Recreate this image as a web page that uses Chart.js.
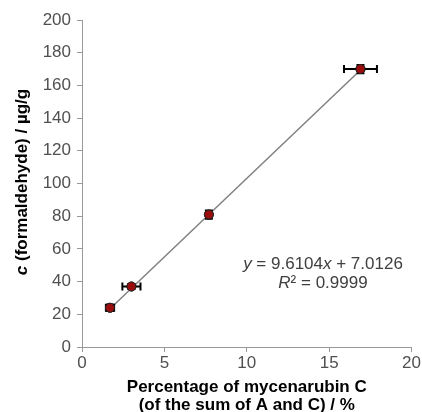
<!DOCTYPE html>
<html>
<head>
<meta charset="utf-8">
<script src="https://cdn.jsdelivr.net/npm/chart.js@4"></script>
<style>
  html, body { margin: 0; padding: 0; background: #fff; }
  #wrap { position: relative; width: 422px; height: 412px; }
</style>
</head>
<body>
<div id="wrap"><canvas id="c" width="422" height="412"></canvas></div>
<script>
  // percentage of mycenarubin C vs formaldehyde content
  var xVals = [1.7, 3.0, 7.7, 16.9];
  var yVals = [24, 37, 81, 170];
  var xErr = [0.25, 0.55, 0.15, 1.0];
  var yErr = [2, 1.5, 2.5, 2.5];
  var slope = 9.6104, intercept = 7.0126;
  var xTicks = [0, 5, 10, 15, 20];
  var yTicks = [0, 20, 40, 60, 80, 100, 120, 140, 160, 180, 200];

  var FONT = "'Liberation Sans', Arial, sans-serif";

  var pts = xVals.map(function (x, i) { return { x: x, y: yVals[i] }; });
  var x0 = xVals[0], x1 = xVals[xVals.length - 1];
  var trend = [{ x: x0, y: slope * x0 + intercept }, { x: x1, y: slope * x1 + intercept }];

  // error bars drawn through the chart's own scales
  var errorBars = {
    id: "errorBars",
    afterDatasetsDraw: function (chart) {
      var xs = chart.scales.x, ys = chart.scales.y, ctx = chart.ctx;
      ctx.save();
      ctx.strokeStyle = "#000";
      ctx.lineWidth = 2;
      xVals.forEach(function (x, i) {
        var y = yVals[i];
        var px = xs.getPixelForValue(x), py = ys.getPixelForValue(y);
        var l = xs.getPixelForValue(x - xErr[i]), r = xs.getPixelForValue(x + xErr[i]);
        var t = ys.getPixelForValue(y + yErr[i]), b = ys.getPixelForValue(y - yErr[i]);
        ctx.beginPath();
        ctx.moveTo(l, py); ctx.lineTo(r, py);
        ctx.moveTo(l, py - 4); ctx.lineTo(l, py + 4);
        ctx.moveTo(r, py - 4); ctx.lineTo(r, py + 4);
        ctx.moveTo(px, t); ctx.lineTo(px, b);
        ctx.moveTo(px - 4, t); ctx.lineTo(px + 4, t);
        ctx.moveTo(px - 4, b); ctx.lineTo(px + 4, b);
        ctx.stroke();
      });
      ctx.restore();
      // markers back on top of the bars
      chart.getDatasetMeta(1).data.forEach(function (el) { el.draw(ctx); });
    }
  };

  function mixedLine(ctx, parts, cx, y, size) {
    var w = 0;
    parts.forEach(function (p) { ctx.font = (p[1] ? "italic " : "") + size + "px " + FONT; w += ctx.measureText(p[0]).width; });
    var x = cx - w / 2;
    parts.forEach(function (p) {
      ctx.font = (p[1] ? "italic " : "") + size + "px " + FONT;
      ctx.fillText(p[0], x, y); x += ctx.measureText(p[0]).width;
    });
  }

  var eqLabel = {
    id: "eqLabel",
    afterDraw: function (chart) {
      var ctx = chart.ctx;
      ctx.save();
      ctx.fillStyle = "#404040";
      ctx.textBaseline = "middle";
      mixedLine(ctx, [["y", true], [" = 9.6104", false], ["x", true], [" + 7.0126", false]], 323, 264, 17);
      mixedLine(ctx, [["R", true], ["² = 0.9999", false]], 323, 283, 17);
      // y title with italic c
      ctx.translate(22, 182);
      ctx.rotate(-Math.PI / 2);
      ctx.fillStyle = "#000";
      var parts = [["c", true], [" (formaldehyde) / µg/g", false]];
      var w = 0;
      parts.forEach(function (p) { ctx.font = (p[1] ? "italic " : "") + "bold 17px " + FONT; w += ctx.measureText(p[0]).width; });
      var x = -w / 2;
      parts.forEach(function (p) {
        ctx.font = (p[1] ? "italic " : "") + "bold 17px " + FONT;
        ctx.fillText(p[0], x, 0); x += ctx.measureText(p[0]).width;
      });
      ctx.restore();
    }
  };

  new Chart(document.getElementById("c"), {
    type: "scatter",
    data: {
      datasets: [
        { type: "line", data: trend, borderColor: "#808080", borderWidth: 1.5, pointRadius: 0, fill: false },
        { data: pts, backgroundColor: "#9b0d0d", borderColor: "#222", borderWidth: 1, pointRadius: 4.5, pointHoverRadius: 4.5 }
      ]
    },
    options: {
      responsive: false, animation: false,
      layout: { padding: { left: 0, right: 8, top: 20, bottom: 0 } },
      plugins: { legend: { display: false }, tooltip: { enabled: false } },
      scales: {
        x: {
          type: "linear", min: 0, max: 20,
          afterBuildTicks: function (s) { s.ticks = xTicks.map(function (v) { return { value: v }; }); },
          afterFit: function (s) { s.height = 65; },
          grid: { drawOnChartArea: false, drawTicks: true, tickLength: 5, color: "#999" },
          border: { color: "#999" },
          ticks: { color: "#505050", font: { family: FONT, size: 17 }, padding: 1 },
          title: { display: true, text: ["Percentage of mycenarubin C", "(of the sum of A and C) / %"],
                   color: "#000", font: { family: FONT, size: 17, weight: "bold", lineHeight: 1.1 }, padding: { top: 0, bottom: -3 } }
        },
        y: {
          type: "linear", min: 0, max: 200,
          afterBuildTicks: function (s) { s.ticks = yTicks.map(function (v) { return { value: v }; }); },
          afterFit: function (s) { s.width = 82; },
          grid: { drawOnChartArea: false, drawTicks: true, tickLength: 5, color: "#999" },
          border: { color: "#999" },
          ticks: { color: "#505050", font: { family: FONT, size: 17 }, padding: 6 },
          title: { display: false }
        }
      }
    },
    plugins: [errorBars, eqLabel]
  });
</script>
</body>
</html>
